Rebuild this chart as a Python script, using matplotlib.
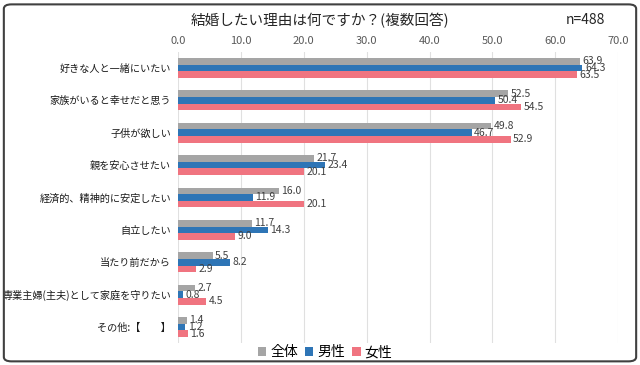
import matplotlib
matplotlib.use("Agg")
import matplotlib.pyplot as plt
from matplotlib.patches import FancyBboxPatch
import numpy as np

plt.rcParams['font.family'] = ['Noto Sans CJK JP', 'DejaVu Sans']

categories = ["好きな人と一緒にいたい", "家族がいると幸せだと思う", "子供が欲しい",
              "親を安心させたい", "経済的、精神的に安定したい", "自立したい",
              "当たり前だから", "専業主婦(主夫)として家庭を守りたい", "その他:【　　】"]
series_names = ["全体", "男性", "女性"]
total = [63.9, 52.5, 49.8, 21.7, 16.0, 11.7, 5.5, 2.7, 1.4]
male = [64.3, 50.4, 46.7, 23.4, 11.9, 14.3, 8.2, 0.8, 1.2]
female = [63.5, 54.5, 52.9, 20.1, 20.1, 9.0, 2.9, 4.5, 1.6]
colors = ["#A5A5A5", "#2E75B6", "#F07480"]

fig = plt.figure(figsize=(6.4, 3.65), dpi=100)
ax = fig.add_axes([0.278, 0.06, 0.688, 0.798])

y = np.arange(len(categories))
h = 0.205
for i, (vals, c, name) in enumerate(zip([total, male, female], colors, series_names)):
    pos = y + (i - 1) * h
    ax.barh(pos, vals, height=h, color=c, label=name)
    for p, v in zip(pos, vals):
        ax.text(v + 0.4, p, f"{v:.1f}", va="center", ha="left", fontsize=7.5, color="#404040")

ax.set_ylim(len(categories) - 0.5, -0.5)
ax.set_xlim(0, 70)
ax.set_xticks(np.arange(0, 71, 10))
ax.set_xticklabels([f"{t:.1f}" for t in range(0, 71, 10)])
ax.xaxis.tick_top()
ax.tick_params(axis="x", length=0, labelsize=8, colors="#595959", pad=4)
ax.set_yticks(y)
ax.set_yticklabels(categories)
ax.tick_params(axis="y", length=0, labelsize=7.3, colors="#1a1a1a", pad=5)
ax.grid(axis="x", color="#E0E0E0", lw=0.8)
ax.set_axisbelow(True)
for s in ax.spines.values():
    s.set_visible(False)

fig.text(0.5, 0.945, "結婚したい理由は何ですか？(複数回答)", ha="center", va="center",
         fontsize=10.5, color="#262626")
fig.text(0.915, 0.945, "n=488", ha="center", va="center", fontsize=10, color="#262626")

leg = fig.legend(loc="center", bbox_to_anchor=(0.508, 0.035), ncol=3, frameon=False,
                 fontsize=10, handlelength=0.6, handleheight=0.6, handletextpad=0.3,
                 columnspacing=0.5)

border = FancyBboxPatch((0.006, 0.01), 0.988, 0.978, boxstyle="round,pad=0,rounding_size=0.012",
                        transform=fig.transFigure, fill=False, edgecolor="#404040", lw=1.5)
fig.patches.append(border)

fig.savefig("out.png", dpi=100)
